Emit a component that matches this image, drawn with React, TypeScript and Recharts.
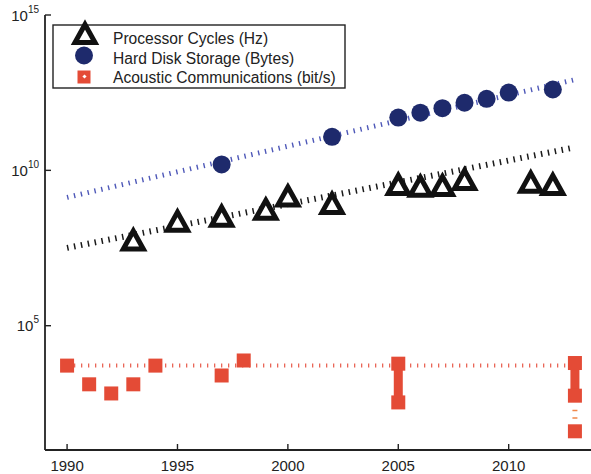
import { ScatterChart, Scatter, XAxis, YAxis, Legend } from "recharts";

// values (log axis)
const cpuYears = [1993, 1995, 1997, 1999, 2000, 2002, 2005, 2006, 2007, 2008, 2011, 2012];
const cpuHz = [6.2e7, 2.5e8, 3.6e8, 6e8, 1.6e9, 9.3e8, 3.8e9, 3.3e9, 3.5e9, 5.5e9, 4.5e9, 3.8e9];

const diskYears = [1997, 2002, 2005, 2006, 2007, 2008, 2009, 2010, 2012];
const diskBytes = [1.55e10, 1.2e11, 5e11, 7.2e11, 1e12, 1.5e12, 2e12, 3.2e12, 4e12];

const acousticYears = [1990, 1991, 1992, 1993, 1994, 1997, 1998, 2005, 2005, 2013, 2013, 2013];
const acousticBps = [5200, 1300, 660, 1300, 5200, 2500, 7600, 6000, 340, 6300, 560, 40];

// vertical spans for the acoustic points
const spanYears = [2005, 2013];
const spanHigh = [6000, 6300];
const spanLow = [340, 560];
const dashedSpanYear = 2013;
const dashedSpan = [560, 40];

// fitted trend lines
const trendYears = [1990, 2013];
const cpuTrend = [3.2e7, 5.5e10];
const diskTrend = [1.35e9, 8.3e12];
const acousticTrend = [5200, 5200];

const xTicks = [1990, 1995, 2000, 2005, 2010];
const yTicks = [1e5, 1e10, 1e15];

const legendLabels = [
  "Processor Cycles (Hz)",
  "Hard Disk Storage (Bytes)",
  "Acoustic Communications (bit/s)",
];

const FONT = '"Liberation Sans", Arial, sans-serif';
const RED = "#e44b36";
const NAVY = "#1e2a6c";
const AXIS = { stroke: "#222", strokeWidth: 1.8 };

const zip = (xs: number[], ys: number[]) => xs.map((x, i) => ({ x, y: ys[i] }));

const tri = (cx: number, cy: number) =>
  `${cx},${cy - 8} ${cx + 10},${cy + 10} ${cx - 10},${cy + 10}`;

function Triangle(props: any) {
  const { cx, cy } = props;
  return (
    <polygon points={tri(cx, cy)} fill="#fff" stroke="#111" strokeWidth={5} strokeLinejoin="miter" />
  );
}

function Dot(props: any) {
  return <circle cx={props.cx} cy={props.cy} r={9} fill={NAVY} />;
}

function Square(props: any) {
  const { cx, cy } = props;
  return <rect x={cx - 7} y={cy - 7} width={14} height={14} fill={RED} />;
}

const Nothing = () => <g />;

function BottomTick(props: any) {
  const { x, y, payload } = props;
  return (
    <g>
      <line x1={x} x2={x} y1={y} y2={y - 6} stroke="#222" strokeWidth={1.4} />
      <text x={x} y={y + 21} textAnchor="middle" fontFamily={FONT} fontSize={15} fill="#222">
        {payload.value}
      </text>
    </g>
  );
}

function TopTick(props: any) {
  const { x, y } = props;
  return <line x1={x} x2={x} y1={y} y2={y + 6} stroke="#222" strokeWidth={1.4} />;
}

function LeftTick(props: any) {
  const { x, y, payload } = props;
  const exp = Math.round(Math.log10(payload.value));
  return (
    <g>
      <line x1={x} x2={x + 6} y1={y} y2={y} stroke="#222" strokeWidth={1.4} />
      <text x={x - 6} y={y + 5.5} textAnchor="end" fontFamily={FONT} fontSize={15} fill="#222">
        10
        <tspan fontSize={10} dy={-8}>
          {exp}
        </tspan>
      </text>
    </g>
  );
}

function LegendBox() {
  const baselines = [19, 39, 58];
  return (
    <svg width={292} height={63} style={{ overflow: "visible", display: "block" }}>
      <rect x={0} y={0} width={292} height={63} fill="#fff" stroke="#222" strokeWidth={1.4} />
      <polygon points={tri(32, 7.5)} fill="#fff" stroke="#111" strokeWidth={5} strokeLinejoin="miter" />
      <circle cx={31} cy={30.5} r={9} fill={NAVY} />
      <rect x={24.5} y={45.5} width={13} height={13} fill={RED} />
      <rect x={30} y={50} width={3} height={3} fill="#fff" transform="rotate(45 31.5 51.5)" />
      {legendLabels.map((t, i) => (
        <text key={t} x={60} y={baselines[i]} fontFamily={FONT} fontSize={15.6} fill="#222">
          {t}
        </text>
      ))}
    </svg>
  );
}

export default function App() {
  return (
    <div
      style={{
        position: "absolute",
        left: 0,
        top: 0,
        width: 591,
        height: 474,
        overflow: "hidden",
        background: "#fff",
      }}
    >
      <ScatterChart width={620} height={474} margin={{ top: 15, right: 23, bottom: 0, left: 0 }}>
        <XAxis
          dataKey="x"
          type="number"
          domain={[1989, 2014]}
          ticks={xTicks}
          allowDataOverflow
          height={24}
          tickSize={0}
          tickMargin={0}
          tickLine={false}
          tick={BottomTick}
          axisLine={AXIS}
        />
        <XAxis
          xAxisId="top"
          orientation="top"
          dataKey="x"
          type="number"
          domain={[1989, 2014]}
          ticks={xTicks}
          allowDataOverflow
          height={0}
          tickSize={0}
          tickMargin={0}
          tickLine={false}
          tick={TopTick}
          axisLine={AXIS}
        />
        <YAxis
          dataKey="y"
          type="number"
          scale="log"
          domain={[10, 1e15]}
          ticks={yTicks}
          allowDataOverflow
          width={45}
          tickSize={0}
          tickMargin={0}
          tickLine={false}
          tick={LeftTick}
          axisLine={AXIS}
        />
        <Legend
          layout="vertical"
          align="center"
          verticalAlign="middle"
          wrapperStyle={{ left: 53, top: 25, width: 292, height: 63 }}
          content={LegendBox}
        />

        <Scatter
          data={zip(trendYears, diskTrend)}
          line={{ stroke: "#4e58b8", strokeWidth: 5, strokeDasharray: "1.4 5.6" }}
          shape={Nothing}
          legendType="none"
          isAnimationActive={false}
        />
        <Scatter
          data={zip(trendYears, cpuTrend)}
          line={{ stroke: "#1a1a1a", strokeWidth: 6, strokeDasharray: "1.5 5.5" }}
          shape={Nothing}
          legendType="none"
          isAnimationActive={false}
        />
        <Scatter
          data={zip(trendYears, acousticTrend)}
          line={{ stroke: "#e85a4a", strokeWidth: 4, strokeDasharray: "1.2 5.8" }}
          shape={Nothing}
          legendType="none"
          isAnimationActive={false}
        />

        {spanYears.map((yr, i) => (
          <Scatter
            key={yr}
            data={[
              { x: yr, y: spanHigh[i] },
              { x: yr, y: spanLow[i] },
            ]}
            line={{ stroke: RED, strokeWidth: 9 }}
            shape={Nothing}
            legendType="none"
            isAnimationActive={false}
          />
        ))}
        <Scatter
          data={dashedSpan.map((y) => ({ x: dashedSpanYear, y }))}
          line={{ stroke: "#f0884a", strokeWidth: 5, strokeDasharray: "0 14 1.5 6 1.5 60" }}
          shape={Nothing}
          legendType="none"
          isAnimationActive={false}
        />

        <Scatter
          name={legendLabels[0]}
          data={zip(cpuYears, cpuHz)}
          shape={Triangle}
          isAnimationActive={false}
        />
        <Scatter
          name={legendLabels[1]}
          data={zip(diskYears, diskBytes)}
          shape={Dot}
          isAnimationActive={false}
        />
        <Scatter
          name={legendLabels[2]}
          data={zip(acousticYears, acousticBps)}
          shape={Square}
          isAnimationActive={false}
        />
      </ScatterChart>
    </div>
  );
}
